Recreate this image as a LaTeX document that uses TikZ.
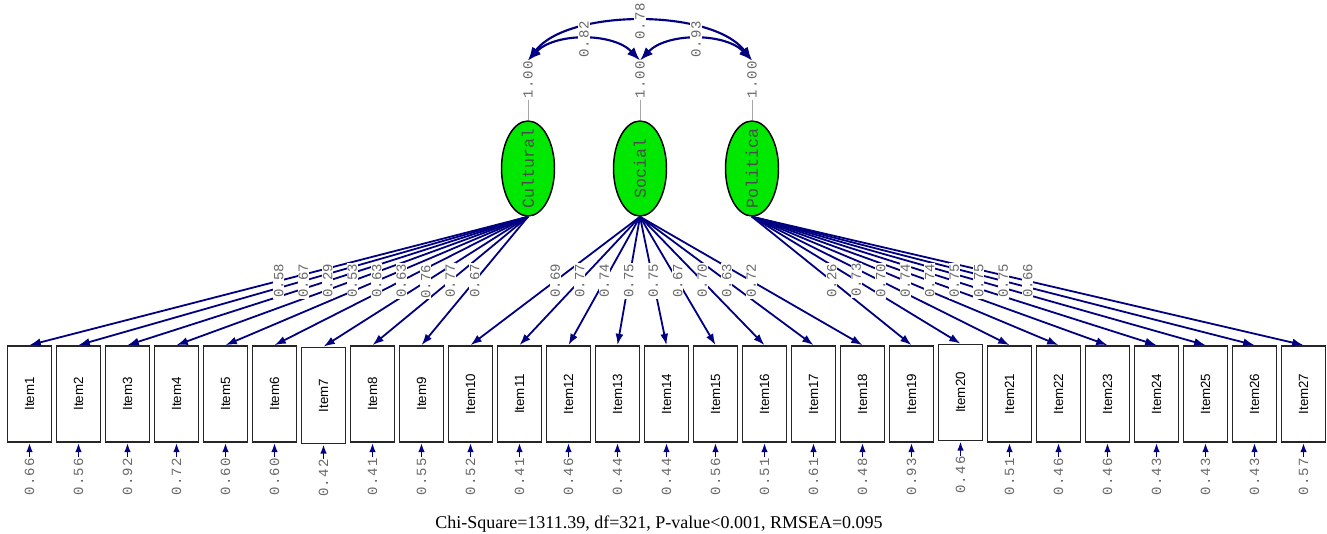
\documentclass[tikz,border=0pt]{standalone}
\usepackage{fontspec}
\usepackage{graphicx}
\usetikzlibrary{arrows.meta,shapes.geometric}
\setmainfont{Liberation Serif}
\newfontfamily\itemfont{Liberation Sans}
\newfontfamily\monofnt{Liberation Mono}
\newfontfamily\monofntsp[LetterSpace=8]{Liberation Mono}
\definecolor{navy}{RGB}{0,0,128}
\definecolor{lblgray}{RGB}{105,105,105}
\definecolor{latgreen}{RGB}{0,232,0}
\begin{document}
\begin{tikzpicture}[x=0.75pt,y=-0.75pt,
  itembox/.style={draw=black!85, line width=1.3pt, fill=white, rectangle, minimum width=33pt, minimum height=72pt, inner sep=0pt, font=\itemfont\fontsize{10}{12}\selectfont},
  latent/.style={ellipse, draw=black, line width=1.1pt, fill=latgreen, minimum width=39.75pt, minimum height=71.25pt, inner sep=0pt, text=black!70, font=\monofnt\fontsize{12.5}{14}\selectfont},
  lbl/.style={fill=white, inner sep=0.6pt, text=lblgray, font=\monofnt\fontsize{10.5}{12}\selectfont},
  lbls/.style={fill=white, inner sep=0.6pt, text=lblgray, font=\monofntsp\fontsize{10.5}{12}\selectfont},
  load/.style={draw=navy, line width=1.35pt, -{Latex[length=8.5pt,width=6pt]}},
  errarr/.style={draw=navy, line width=1.35pt, -{Latex[length=7pt,width=5pt]}},
  cov/.style={draw=navy, line width=1.6pt, {Latex[length=10pt,width=7.5pt]}-{Latex[length=10pt,width=7.5pt]}},
  varline/.style={draw=gray!70, line width=0.7pt}
]
\fill[white] (0,0) rectangle (1327,533);
\useasboundingbox (0,0) rectangle (1327,533);

% latent variables
\node[latent] (Cul) at (528,168.5) {\rotatebox{90}{\makebox[0pt]{Cultural}}};
\node[latent] (Soc) at (640,168.5) {\rotatebox{90}{\makebox[0pt]{Social}}};
\node[latent] (Pol) at (752,168.5) {\rotatebox{90}{\makebox[0pt]{Politica}}};

% variances
\node[lbls] (V1) at (528,80) {\rotatebox{90}{1.00}};
\node[lbls] (V2) at (640,80) {\rotatebox{90}{1.00}};
\node[lbls] (V3) at (752,80) {\rotatebox{90}{1.00}};
\draw[varline] (V1.south) -- (Cul.north);
\draw[varline] (V2.south) -- (Soc.north);
\draw[varline] (V3.south) -- (Pol.north);

% covariances
\draw[cov] (V1.north) .. controls +(27,-28) and +(-27,-28) .. (V2.north);
\draw[cov] (V2.north) .. controls +(27,-28) and +(-27,-28) .. (V3.north);
\draw[cov] (V1.north) .. controls +(40,-52) and +(-40,-52) .. (V3.north);
\path (V1.north) .. controls +(27,-28) and +(-27,-28) .. node[lbls,rotate=90] {0.82} (V2.north);
\path (V2.north) .. controls +(27,-28) and +(-27,-28) .. node[lbls,rotate=90] {0.93} (V3.north);
\path (V1.north) .. controls +(40,-52) and +(-40,-52) .. node[lbls,rotate=90] {0.78} (V3.north);

% items and errors
\foreach \i/\e in {1/0.66,2/0.56,3/0.92,4/0.72,5/0.60,6/0.60,7/0.42,8/0.41,9/0.55,10/0.52,11/0.41,12/0.46,13/0.44,14/0.44,15/0.56,16/0.51,17/0.61,18/0.48,19/0.93,20/0.46,21/0.51,22/0.46,23/0.46,24/0.43,25/0.43,26/0.43,27/0.57}{
  \pgfmathsetmacro\xx{29.5+49*(\i-1)}
  \pgfmathsetmacro\yy{\i==7 ? 395.5 : (\i==20 ? 392.5 : 394)}
  \node[itembox] (I\i) at (\xx,\yy) {\rotatebox{90}{Item\i}};
  \node[lbls, anchor=north] (E\i) at (\xx,\yy+63) {\rotatebox{90}{\e}};
  \draw[errarr] (E\i.north) -- (I\i.south);
}

% loadings
\foreach \i in {1,...,9} \draw[load] (Cul.south) -- (I\i.north);
\foreach \i in {10,...,18} \draw[load] (Soc.south) -- (I\i.north);
\foreach \i in {19,...,27} \draw[load] (Pol.south) -- (I\i.north);
\foreach \i/\v in {1/0.58,2/0.67,3/0.29,4/0.53,5/0.63,6/0.63,7/0.76,8/0.77,9/0.67}
  \path (Cul.south) -- (I\i.north) node[lbl,rotate=90,pos=0.5] {\v};
\foreach \i/\v in {10/0.69,11/0.77,12/0.74,13/0.75,14/0.75,15/0.67,16/0.70,17/0.63,18/0.72}
  \path (Soc.south) -- (I\i.north) node[lbl,rotate=90,pos=0.5] {\v};
\foreach \i/\v in {19/0.26,20/0.73,21/0.70,22/0.74,23/0.74,24/0.75,25/0.75,26/0.75,27/0.66}
  \path (Pol.south) -- (I\i.north) node[lbl,rotate=90,pos=0.5] {\v};

% fit statistics
\node[font=\fontsize{13.5}{16}\selectfont, anchor=base] (fit) at (659,528) {Chi-Square=1311.39, df=321, P-value<0.001, RMSEA=0.095};
\end{tikzpicture}
\end{document}
